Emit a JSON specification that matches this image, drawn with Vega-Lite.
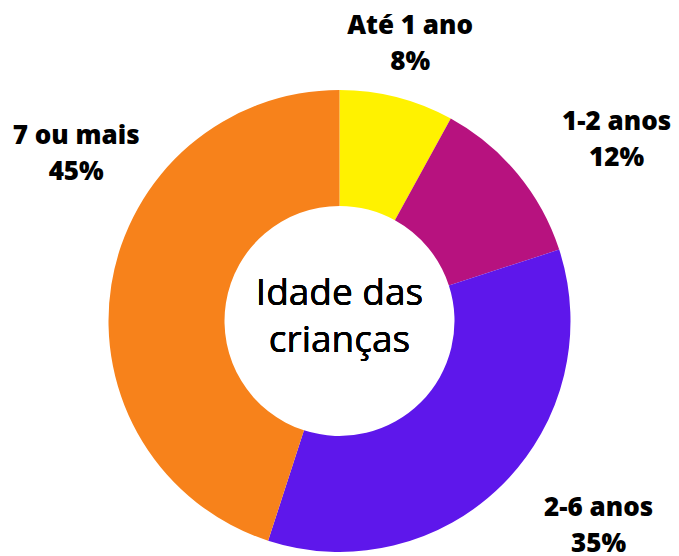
{
  "$schema": "https://vega.github.io/schema/vega-lite/v6.json",
  "width": 679,
  "height": 470,
  "autosize": {"type": "none"},
  "padding": {"top": 86, "left": 0, "right": 0, "bottom": 0},
  "background": "white",
  "view": {"stroke": null},
  "data": {
    "values": [
      {"faixa": "Até 1 ano", "pct": 8, "ord": 1},
      {"faixa": "1-2 anos", "pct": 12, "ord": 2},
      {"faixa": "2-6 anos", "pct": 35, "ord": 3},
      {"faixa": "7 ou mais", "pct": 45, "ord": 4}
    ]
  },
  "transform": [
    {"window": [{"op": "sum", "field": "pct", "as": "cum"}], "sort": [{"field": "ord"}], "frame": [null, 0]},
    {"calculate": "datum.cum - datum.pct / 2", "as": "mid"},
    {"calculate": "datum.faixa + '\\n' + datum.pct + '%'", "as": "rotulo"}
  ],
  "layer": [
    {
      "mark": {"type": "arc", "outerRadius": 231, "innerRadius": 115},
      "encoding": {
        "theta": {"field": "pct", "type": "quantitative", "stack": true, "scale": {"domain": [0, 100]}},
        "order": {"field": "ord", "type": "quantitative"},
        "color": {
          "field": "faixa", "type": "nominal", "legend": null,
          "scale": {
            "domain": ["Até 1 ano", "1-2 anos", "2-6 anos", "7 ou mais"],
            "range": ["#FFF200", "#B7127F", "#5E17EB", "#F7821B"]
          }
        }
      }
    },
    {
      "mark": {"type": "text", "text": ["Idade das", "crianças"], "font": "Open Sans", "fontSize": 37, "fontWeight": 400, "baseline": "alphabetic", "lineHeight": 47, "dy": -16, "color": "black"},
      "encoding": {}
    },
    {
      "transform": [{"filter": "datum.faixa == 'Até 1 ano'"}],
      "mark": {"type": "text", "radius": 300, "dx": -4, "dy": -4, "font": "Open Sans", "fontSize": 26, "fontWeight": 800, "baseline": "middle", "lineBreak": "\n", "lineHeight": 36, "color": "black"},
      "encoding": {"theta": {"field": "mid", "type": "quantitative", "stack": null}, "text": {"field": "rotulo"}}
    },
    {
      "transform": [{"filter": "datum.faixa == '1-2 anos'"}],
      "mark": {"type": "text", "radius": 300, "dx": 46, "dy": -8, "font": "Open Sans", "fontSize": 26, "fontWeight": 800, "baseline": "middle", "lineBreak": "\n", "lineHeight": 36, "color": "black"},
      "encoding": {"theta": {"field": "mid", "type": "quantitative", "stack": null}, "text": {"field": "rotulo"}}
    },
    {
      "transform": [{"filter": "datum.faixa == '2-6 anos'"}],
      "mark": {"type": "text", "radius": 300, "dx": 47, "dy": -25, "font": "Open Sans", "fontSize": 26, "fontWeight": 800, "baseline": "middle", "lineBreak": "\n", "lineHeight": 36, "color": "black"},
      "encoding": {"theta": {"field": "mid", "type": "quantitative", "stack": null}, "text": {"field": "rotulo"}}
    },
    {
      "transform": [{"filter": "datum.faixa == '7 ou mais'"}],
      "mark": {"type": "text", "radius": 300, "dx": 33, "dy": -138, "font": "Open Sans", "fontSize": 26, "fontWeight": 800, "baseline": "middle", "lineBreak": "\n", "lineHeight": 36, "color": "black"},
      "encoding": {"theta": {"field": "mid", "type": "quantitative", "stack": null}, "text": {"field": "rotulo"}}
    }
  ]
}
